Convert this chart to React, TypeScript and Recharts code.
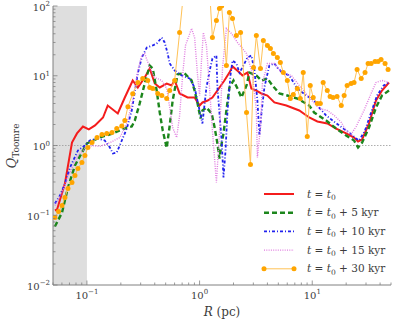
import React from 'react'
import { LineChart, Line, XAxis, YAxis, ReferenceArea, ReferenceLine } from 'recharts'

// tick positions (log axes)
const xTicks = [
  0.05, 0.06, 0.07, 0.08, 0.09, 0.1, 0.2, 0.3, 0.4, 0.5, 0.6, 0.7, 0.8, 0.9,
  1, 2, 3, 4, 5, 6, 7, 8, 9, 10, 20, 30, 40, 50,
]
const yTicks = [
  0.01, 0.02, 0.03, 0.04, 0.05, 0.06, 0.07, 0.08, 0.09,
  0.1, 0.2, 0.3, 0.4, 0.5, 0.6, 0.7, 0.8, 0.9,
  1, 2, 3, 4, 5, 6, 7, 8, 9,
  10, 20, 30, 40, 50, 60, 70, 80, 90, 100,
]

// t = t0
const redR = [0.052, 0.0543, 0.0638, 0.0737, 0.0816, 0.0922, 0.104, 0.118, 0.139, 0.153, 0.188, 0.217, 0.255, 0.283, 0.326, 0.361, 0.4, 0.443, 0.511, 0.565, 0.601, 0.665, 0.783, 0.903, 1.0, 1.06, 1.18, 1.3, 1.44, 1.66, 1.84, 1.96, 2.26, 2.4, 2.66, 2.88, 3.19, 3.54, 4.0, 4.61, 5.89, 7.67, 9.4, 11.1, 13.6, 16.3, 20.0, 23.5, 25.5, 27.7, 31.9, 36.8, 41.6, 48.0]
const redQ = [0.117, 0.121, 0.285, 1.1, 1.49, 1.87, 1.7, 1.94, 2.52, 3.74, 2.88, 4.88, 8.55, 6.79, 9.44, 12.7, 7.74, 6.79, 7.74, 7.25, 8.55, 5.57, 4.88, 4.88, 3.74, 4.14, 4.42, 4.88, 6.14, 8.55, 11.1, 13.6, 11.1, 10.1, 11.1, 6.57, 6.14, 5.57, 5.21, 4.14, 3.74, 3.18, 2.52, 2.21, 2.07, 1.75, 1.49, 1.3, 1.14, 1.22, 2.07, 4.42, 6.14, 8.0]

// t = t0 + 5 kyr
const greenR = [0.052, 0.0601, 0.0679, 0.0783, 0.0903, 0.1, 0.13, 0.17, 0.226, 0.25, 0.266, 0.294, 0.326, 0.361, 0.384, 0.416, 0.443, 0.471, 0.511, 0.543, 0.577, 0.638, 0.736, 0.849, 0.903, 0.96, 1.02, 1.06, 1.15, 1.28, 1.36, 1.44, 1.5, 1.57, 1.63, 1.73, 1.84, 2.0, 2.17, 2.35, 2.61, 2.77, 3.19, 3.54, 4.0, 4.43, 5.11, 6.01, 7.37, 9.4, 10.4, 13.3, 16.3, 20.0, 23.5, 25.5, 27.7, 31.9, 36.8, 41.6, 48.0]
const greenQ = [0.069, 0.109, 0.25, 0.517, 0.794, 1.07, 1.3, 1.49, 1.81, 1.87, 2.28, 4.0, 7.74, 14.0, 12.7, 6.14, 2.97, 1.64, 0.92, 1.94, 4.42, 10.5, 10.8, 8.55, 6.14, 4.0, 2.44, 3.18, 3.51, 2.88, 1.81, 1.07, 0.651, 1.07, 1.49, 3.18, 6.79, 8.55, 6.57, 4.88, 7.25, 11.1, 10.1, 8.55, 9.14, 7.25, 5.57, 5.21, 4.72, 3.74, 2.97, 2.28, 1.75, 1.39, 1.18, 0.936, 1.1, 1.81, 3.51, 5.21, 6.14]

// t = t0 + 10 kyr
const blueR = [0.052, 0.0577, 0.0638, 0.0708, 0.0832, 0.096, 0.106, 0.123, 0.144, 0.16, 0.17, 0.184, 0.204, 0.226, 0.25, 0.283, 0.307, 0.34, 0.384, 0.416, 0.462, 0.49, 0.521, 0.543, 0.601, 0.693, 0.816, 0.903, 1.0, 1.06, 1.15, 1.23, 1.3, 1.41, 1.44, 1.57, 1.63, 1.7, 1.77, 1.88, 1.96, 2.12, 2.26, 2.4, 2.66, 2.88, 3.07, 3.26, 3.4, 3.54, 3.76, 4.16, 4.61, 4.9, 5.43, 6.26, 7.37, 8.85, 10.4, 11.5, 13.3, 17.3, 21.2, 24.5, 26.1, 29.4, 33.3, 37.6, 43.0, 48.0]
const blueQ = [0.147, 0.192, 0.285, 0.484, 0.848, 1.0, 1.18, 1.26, 1.18, 0.936, 0.768, 0.794, 1.18, 1.75, 3.18, 10.8, 18.3, 25.4, 27.2, 29.0, 35.3, 30.0, 20.8, 15.0, 11.9, 10.1, 9.14, 6.79, 3.18, 2.07, 6.79, 11.9, 17.7, 19.5, 6.79, 1.18, 0.348, 0.848, 3.18, 10.1, 16.5, 15.0, 11.1, 13.1, 18.3, 19.5, 11.9, 4.42, 1.39, 2.88, 6.79, 14.0, 15.0, 13.1, 11.1, 10.1, 6.57, 5.21, 4.42, 3.51, 2.69, 1.94, 1.54, 1.26, 1.18, 1.64, 2.97, 5.21, 7.25, 8.0]

// t = t0 + 15 kyr
const violetR = [0.052, 0.0601, 0.0708, 0.0832, 0.096, 0.111, 0.13, 0.16, 0.196, 0.226, 0.255, 0.283, 0.307, 0.326, 0.361, 0.4, 0.462, 0.511, 0.543, 0.577, 0.626, 0.665, 0.707, 0.75, 0.849, 0.903, 0.96, 1.0, 1.04, 1.08, 1.15, 1.23, 1.3, 1.41, 1.5, 1.6, 1.73, 1.92, 2.17, 2.61, 2.94, 3.19, 3.26, 3.47, 3.61, 4.0, 4.61, 5.32, 6.52, 7.67, 9.4, 11.5, 13.6, 15.7, 18.1, 20.0, 22.1, 24.5, 28.8, 33.3, 36.8, 41.6, 48.0]
const violetQ = [0.138, 0.212, 0.41, 0.719, 0.906, 1.0, 0.97, 1.1, 1.3, 2.07, 4.42, 11.9, 19.5, 20.8, 13.1, 9.44, 8.55, 6.57, 3.51, 1.81, 1.3, 2.69, 10.1, 27.2, 47.6, 35.3, 10.1, 5.21, 16.5, 41.7, 27.2, 6.14, 1.64, 0.295, 1.49, 13.1, 47.6, 40.3, 30.0, 20.8, 10.8, 3.18, 0.673, 1.81, 7.74, 15.0, 15.0, 11.1, 10.1, 7.25, 4.88, 3.39, 3.18, 2.69, 2.14, 1.64, 1.44, 1.87, 3.18, 5.57, 8.0, 8.55, 8.0]

// t = t0 + 30 kyr
const orangeR = [0.052, 0.056, 0.0601, 0.0638, 0.0679, 0.0737, 0.0783, 0.0832, 0.0903, 0.096, 0.102, 0.111, 0.123, 0.136, 0.15, 0.167, 0.184, 0.204, 0.217, 0.231, 0.255, 0.283, 0.313, 0.347, 0.361, 0.384, 0.425, 0.462, 0.511, 0.543, 0.601, 0.665, 0.75, 1.2, 1.3, 1.41, 1.5, 1.57, 1.73, 1.84, 1.96, 2.12, 2.31, 2.61, 2.83, 3.01, 3.19, 3.47, 3.68, 4.0, 4.25, 4.52, 4.9, 5.21, 5.54, 6.01, 6.39, 6.79, 7.37, 7.83, 8.32, 9.03, 9.6, 10.2, 11.1, 11.8, 12.5, 13.6, 14.4, 15.3, 16.6, 18.1, 19.2, 20.4, 22.1, 23.5, 25.0, 27.2, 29.4, 31.3, 33.3, 36.1, 38.4, 40.8, 44.3, 47.1]
const orangeQ = [0.093, 0.113, 0.138, 0.18, 0.242, 0.295, 0.371, 0.468, 0.571, 0.719, 0.936, 1.1, 1.3, 1.44, 1.49, 1.54, 1.75, 1.9, 2.28, 3.6, 5.5, 8.0, 9.14, 8.55, 6.79, 6.57, 5.57, 5.21, 4.72, 6.14, 8.55, 41.7, 300, 300, 35.3, 62, 92, 100, 14.0, 80.7, 66.2, 37.8, 41.7, 2.97, 0.534, 13.1, 37.8, 12.7, 32.0, 27.2, 24.6, 20.8, 18.3, 15.5, 11.1, 8.55, 4.72, 5.39, 6.57, 4.72, 11.1, 1.35, 7.25, 4.88, 4.0, 4.0, 8.0, 6.14, 5.04, 4.88, 5.04, 3.74, 5.21, 7.25, 7.74, 8.0, 12.3, 9.14, 11.1, 15.0, 15.0, 16.0, 16.0, 17.1, 15.0, 12.3]

// legend suffix (kyr after t0)
const legendKyr = ['', '5', '10', '15', '30']

const zip = (rs: number[], qs: number[]) => rs.map((r, i) => ({ r, q: qs[i] }))

const series = [
  { name: 'red', data: zip(redR, redQ), stroke: '#f41c1c', width: 2, dash: undefined as string | undefined },
  { name: 'green', data: zip(greenR, greenQ), stroke: '#1c861c', width: 2.4, dash: '5 3' },
  { name: 'blue', data: zip(blueR, blueQ), stroke: '#2222ee', width: 1.8, dash: '3 2 1 2' },
  { name: 'violet', data: zip(violetR, violetQ), stroke: '#e07ce0', width: 1.4, dash: '1 1.3' },
  { name: 'orange', data: zip(orangeR, orangeQ), stroke: '#ffc256', width: 1, dash: undefined },
]

const FONT = "'DejaVu Serif', serif"
const TICK_COLOR = '#808080'
const LABEL_COLOR = '#3c3c3c'

const isMajor = (v: number) => Math.abs(Math.log10(v) - Math.round(Math.log10(v))) < 1e-9
const expText = (v: number) => {
  const e = Math.round(Math.log10(v))
  return e < 0 ? `\u2212${-e}` : `${e}`
}

function XTick(props: any) {
  const { x, y, payload, side } = props
  const major = isMajor(payload.value)
  const len = major ? 4.5 : 2.5
  const dir = side === 'bottom' ? -1 : 1
  return (
    <g>
      <line x1={x} x2={x} y1={y} y2={y + dir * len} stroke={TICK_COLOR} strokeWidth={0.8} />
      {side === 'bottom' && major && (
        <text x={x} y={y + 13.5} textAnchor="middle" fontFamily={FONT} fontSize={10} fill={LABEL_COLOR}>
          10<tspan dy={-4.5} fontSize={7}>{expText(payload.value)}</tspan>
        </text>
      )}
    </g>
  )
}

function YTick(props: any) {
  const { x, y, payload, side } = props
  const major = isMajor(payload.value)
  const len = major ? 4.5 : 2.5
  const dir = side === 'left' ? 1 : -1
  return (
    <g>
      <line x1={x} x2={x + dir * len} y1={y} y2={y} stroke={TICK_COLOR} strokeWidth={0.8} />
      {side === 'left' && major && (
        <text x={x - 3} y={y + 4.5} textAnchor="end" fontFamily={FONT} fontSize={10} fill={LABEL_COLOR}>
          10<tspan dy={-4.5} fontSize={7}>{expText(payload.value)}</tspan>
        </text>
      )}
    </g>
  )
}

function Overlay() {
  const rowY = (i: number) => 194 + i * 18.7
  return (
    <svg width={415} height={326} style={{ position: 'absolute', left: 0, top: 0, pointerEvents: 'none' }}>
      <text x={222} y={316} textAnchor="middle" fontFamily={FONT} fontSize={12} fill={LABEL_COLOR}>
        <tspan fontStyle="italic">R</tspan> (pc)
      </text>
      <text
        x={0}
        y={0}
        transform="translate(16,146) rotate(-90)"
        textAnchor="middle"
        fontFamily={FONT}
        fontSize={13}
        fill={LABEL_COLOR}
      >
        <tspan fontStyle="italic">Q</tspan>
        <tspan dy={3} fontSize={9}>Toomre</tspan>
      </text>
      {series.map((s, i) => {
        const y = rowY(i)
        return (
          <g key={s.name}>
            <line
              x1={264}
              x2={294}
              y1={y}
              y2={y}
              stroke={s.stroke}
              strokeWidth={s.width}
              strokeDasharray={s.dash}
            />
            {s.name === 'orange' && (
              <>
                <circle cx={264} cy={y} r={2.5} fill="#ffa500" />
                <circle cx={294} cy={y} r={2.5} fill="#ffa500" />
              </>
            )}
            <text x={307} y={y + 3.5} fontFamily={FONT} fontSize={10.5} fill={LABEL_COLOR}>
              <tspan fontStyle="italic">t</tspan>
              {' = '}
              <tspan fontStyle="italic">t</tspan>
              <tspan dy={2.5} fontSize={7.5}>0</tspan>
              <tspan dy={-2.5}>{legendKyr[i] ? ` + ${legendKyr[i]} kyr` : ''}</tspan>
            </text>
          </g>
        )
      })}
    </svg>
  )
}

export default function App() {
  return (
    <div style={{ position: 'absolute', left: 0, top: 0, width: 415, height: 326, background: '#fff' }}>
      <LineChart width={415} height={326} margin={{ top: 6, right: 24, bottom: 0, left: 0 }}>
        <XAxis
          dataKey="r"
          type="number"
          scale="log"
          domain={[0.05, 50]}
          allowDataOverflow
          ticks={xTicks}
          interval={0}
          height={41}
          tickSize={0}
          tickMargin={0}
          tickLine={false}
          axisLine={{ stroke: TICK_COLOR }}
          tick={(p: any) => <XTick {...p} side="bottom" />}
        />
        <XAxis
          xAxisId="top"
          orientation="top"
          dataKey="r"
          type="number"
          scale="log"
          domain={[0.05, 50]}
          allowDataOverflow
          ticks={xTicks}
          interval={0}
          height={0}
          tickSize={0}
          tickMargin={0}
          tickLine={false}
          axisLine={{ stroke: TICK_COLOR }}
          tick={(p: any) => <XTick {...p} side="top" />}
        />
        <YAxis
          type="number"
          scale="log"
          domain={[0.01, 100]}
          allowDataOverflow
          ticks={yTicks}
          interval={0}
          width={53}
          tickSize={0}
          tickMargin={0}
          tickLine={false}
          axisLine={{ stroke: TICK_COLOR }}
          tick={(p: any) => <YTick {...p} side="left" />}
        />
        <YAxis
          yAxisId="right"
          orientation="right"
          type="number"
          scale="log"
          domain={[0.01, 100]}
          allowDataOverflow
          ticks={yTicks}
          interval={0}
          width={0}
          tickSize={0}
          tickMargin={0}
          tickLine={false}
          axisLine={{ stroke: TICK_COLOR }}
          tick={(p: any) => <YTick {...p} side="right" />}
        />
        <ReferenceArea x1={0.05} x2={0.1} fill="#dedede" fillOpacity={1} stroke="none" />
        <ReferenceLine y={1} stroke="#999" strokeWidth={0.8} strokeDasharray="1.5 1.5" />
        {series.map((s) => (
          <Line
            key={s.name}
            data={s.data}
            dataKey="q"
            type="linear"
            stroke={s.stroke}
            strokeWidth={s.width}
            strokeDasharray={s.dash}
            isAnimationActive={false}
            dot={
              s.name === 'orange'
                ? (p: any) =>
                    p.payload.q <= 100 ? (
                      <circle key={p.index} cx={p.cx} cy={p.cy} r={2.5} fill="#ffa500" />
                    ) : (
                      <g key={p.index} />
                    )
                : false
            }
            activeDot={false}
          />
        ))}
      </LineChart>
      <Overlay />
    </div>
  )
}
